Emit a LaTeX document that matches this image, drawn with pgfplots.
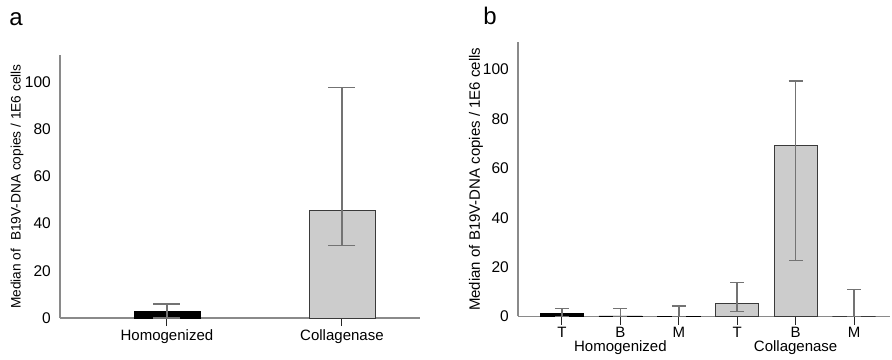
\documentclass[border=0pt]{standalone}
\usepackage{fontspec}
\setmainfont{Liberation Sans}
\usepackage{pgfplots}
\pgfplotsset{compat=1.18}
\definecolor{barg}{HTML}{CCCCCC}
\definecolor{edgeg}{HTML}{3A3A3A}
\definecolor{errg}{HTML}{737373}
\definecolor{axg}{HTML}{8A8A8A}
\pgfplotsset{common/.style={
  scale only axis, axis lines=left, axis line style={axg, line width=1.3pt, -},
  ymin=0, ytick={0,20,40,60,80,100},
  /pgf/number format/assume math mode=true,
  y tick label style={font=\fontsize{15.5}{17}\selectfont, inner sep=1pt},
  ytick style={draw=none},
  xtick style={draw=black!85, line width=1pt},
  major tick length=8pt, tick align=outside,
  ybar, bar shift=0pt,
  every axis y label/.append style={at={(axis description cs:0,0.5)}, anchor=center},
  clip=false,
}}
\begin{document}
\begin{tikzpicture}[x=1pt,y=1pt]
\path[use as bounding box] (0,0) rectangle (892,359);
\node[font=\fontsize{24}{26}\selectfont] at (16,340) {a};
\node[font=\fontsize{24}{26}\selectfont] at (490,343) {b};
% Panel a
\begin{axis}[common, at={(60pt,41pt)}, anchor=south west,
  width=360pt, height=263pt, ymax=111.4,
  xmin=-0.611, xmax=1.446, bar width=0.377,
  xtick={0,1}, xticklabels={Homogenized,Collagenase},
  x tick label style={font=\fontsize{15}{16}\selectfont, yshift=0pt},
  ylabel={Median of\ \ B19V-DNA copies / 1E6 cells},
  ylabel style={font=\fontsize{13.7}{15}\selectfont, yshift=43pt}]
\addplot[fill=black, draw=black, error bars/.cd, y dir=both, y explicit,
  error bar style={errg, line width=1.5pt},
  error mark options={errg, line width=1.5pt, rotate=90, mark size=13.5pt}]
  coordinates {(0,3) += (0,3) -= (0,3)};
\addplot[fill=barg, draw=edgeg, line width=0.8pt, error bars/.cd, y dir=both, y explicit,
  error bar style={errg, line width=1.5pt},
  error mark options={errg, line width=1.5pt, rotate=90, mark size=13.5pt}]
  coordinates {(1,45.6) += (0,52) -= (0,14.8)};
\end{axis}
% Panel b
\begin{axis}[common, at={(518pt,42.5pt)}, anchor=south west,
  width=372pt, height=274.5pt, ymax=111.1,
  xmin=-0.753, xmax=5.616, bar width=0.74,
  xtick={0,1,2,3,4,5}, xticklabels={T,B,M,T,B,M},
  x tick label style={font=\fontsize{15}{16}\selectfont, yshift=1pt},
  ylabel={Median of B19V-DNA copies / 1E6 cells},
  ylabel style={font=\fontsize{15}{16}\selectfont, yshift=42pt}]
\addplot[fill=black, draw=black, error bars/.cd, y dir=both, y explicit,
  error bar style={errg, line width=1.5pt},
  error mark options={errg, line width=1.5pt, rotate=90, mark size=7pt}]
  coordinates {(0,1.4) += (0,1.8) -= (0,1.4)
               (1,0.3) += (0,2.9) -= (0,0.3)
               (2,0.2) += (0,4.1) -= (0,0.2)};
\addplot[fill=barg, draw=edgeg, line width=0.8pt, error bars/.cd, y dir=both, y explicit,
  error bar style={errg, line width=1.5pt},
  error mark options={errg, line width=1.5pt, rotate=90, mark size=7pt}]
  coordinates {(3,5.4) += (0,8.3) -= (0,3.4)
               (4,69.2) += (0,26.1) -= (0,46.6)
               (5,0) += (0,11) -= (0,0)};
\node[font=\fontsize{15}{16}\selectfont, anchor=center] at (axis cs:1,0) [yshift=-31pt] {Homogenized};
\node[font=\fontsize{15}{16}\selectfont, anchor=center] at (axis cs:4,0) [yshift=-31pt] {Collagenase};
\end{axis}
\end{tikzpicture}
\end{document}
